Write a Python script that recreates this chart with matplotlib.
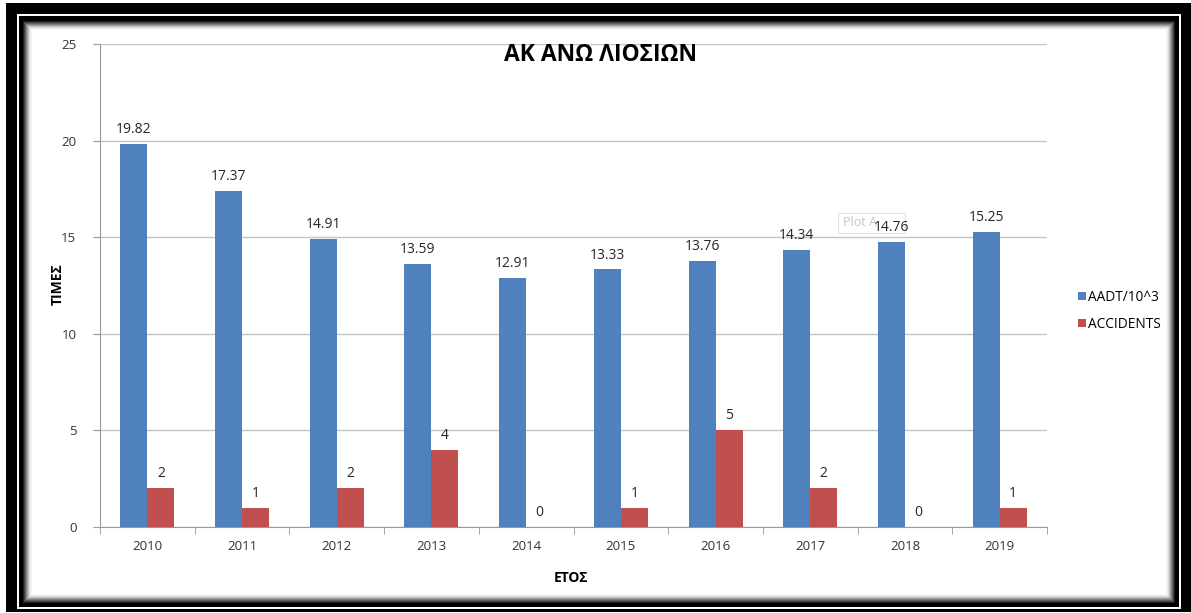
import matplotlib.pyplot as plt
import numpy as np
from matplotlib.patches import Rectangle

plt.rcParams['font.family'] = ['Open Sans', 'DejaVu Sans']

years = ['2010', '2011', '2012', '2013', '2014', '2015', '2016', '2017', '2018', '2019']
aadt = [19.82, 17.37, 14.91, 13.59, 12.91, 13.33, 13.76, 14.34, 14.76, 15.25]
accidents = [2, 1, 2, 4, 0, 1, 5, 2, 0, 1]
aadt_labels = ['19.82', '17.37', '14.91', '13.59', '12.91', '13.33', '13.76', '14.34', '14.76', '15.25']

W, H = 1191, 613
fig = plt.figure(figsize=(W / 100, H / 100), dpi=100)
fig.patch.set_facecolor('white')


def rect(x0, y0, x1, y1, color, z, edge='none'):
    # rectangle given in pixel coords (origin top-left)
    return Rectangle((x0 / W, 1 - y1 / H), (x1 - x0) / W, (y1 - y0) / H,
                     transform=fig.transFigure, facecolor=color,
                     edgecolor=edge, lw=0.8, zorder=z, clip_on=False)


# picture frame: black, thin white line, black, then an inner shadow
fig.add_artist(rect(6, 3, 1191, 612, 'black', -10))
fig.add_artist(rect(17, 14, 1181, 609, 'white', -9))
fig.add_artist(rect(19, 16, 1179, 607, 'black', -8))
shades = ['#202020', '#404040', '#606060', '#808080', '#a0a0a0', '#c0c0c0', '#dadada', '#ececec', '#f7f7f7']
for i, c in enumerate(shades):
    fig.add_artist(rect(23 + i, 21 + i, 1175 - i, 603 - i, c, -7 + i * 0.1))
fig.add_artist(rect(32, 30, 1166, 594, 'white', -6))

ax = fig.add_axes([100 / W, 1 - 527 / H, 947 / W, 483 / H])
ax.set_facecolor('none')
x = np.arange(len(years))
bw = 0.285
blue = '#4f81bd'
red = '#c0504d'
b1 = ax.bar(x - bw / 2, aadt, bw, color=blue, label='AADT/10^3', zorder=3)
b2 = ax.bar(x + bw / 2, accidents, bw, color=red, label='ACCIDENTS', zorder=3)

for xi, v, t in zip(x, aadt, aadt_labels):
    ax.annotate(t, (xi - bw / 2, v), xytext=(0, 5), textcoords='offset points',
                ha='center', va='bottom', fontsize=10, color='#262626', zorder=6)
for xi, v in zip(x, accidents):
    ax.annotate(str(v), (xi + bw / 2, v), xytext=(0, 5), textcoords='offset points',
                ha='center', va='bottom', fontsize=10, color='#262626', zorder=6)

# tooltip left over next to the 2018 value, partly covered by it
ax.add_patch(rect(838, 213, 905, 233, 'white', 5, edge='#e2e2e2'))
ax.text(843 / W, 1 - 223 / H, 'Plot A', transform=fig.transFigure, fontsize=9,
        color='#c4c4c4', ha='left', va='center', zorder=5.5)

ax.set_xlim(-0.5, 9.5)
ax.set_ylim(0, 25)
ax.set_yticks(np.arange(0, 26, 5))
ax.set_xticks(x)
ax.set_xticklabels(years)
ax.set_xticks(np.arange(-0.5, 10, 1), minor=True)
ax.tick_params(axis='x', which='major', length=0, pad=9, labelsize=9.5, labelcolor='#333333')
ax.tick_params(axis='x', which='minor', length=5, color='#999999', direction='out')
ax.tick_params(axis='y', length=5, color='#999999', pad=12, labelsize=9.5, labelcolor='#333333')
ax.yaxis.grid(True, color='#c4c4c4', lw=1, zorder=0)
ax.set_axisbelow(True)
for s in ['top', 'right']:
    ax.spines[s].set_visible(False)
for s in ['left', 'bottom']:
    ax.spines[s].set_color('#999999')

fig.text(58 / W, 1 - 284 / H, 'ΤΙΜΕΣ', fontsize=10, fontweight='bold', rotation=90,
         ha='center', va='center')
fig.text(571 / W, 1 - 578 / H, 'ΕΤΟΣ', fontsize=10, fontweight='bold', ha='center', va='center')
fig.text(601 / W, 1 - 55 / H, 'ΑΚ ΑΝΩ ΛΙΟΣΙΩΝ', fontsize=16.5, fontweight='bold', ha='center', va='center')

fig.legend(handles=[b1, b2], loc='center left', bbox_to_anchor=(1066 / W, 1 - 311 / H),
           frameon=False, fontsize=9.8, handlelength=0.55, handleheight=0.55,
           handletextpad=0.2, labelspacing=0.9)

fig.savefig('out.png', dpi=100)
